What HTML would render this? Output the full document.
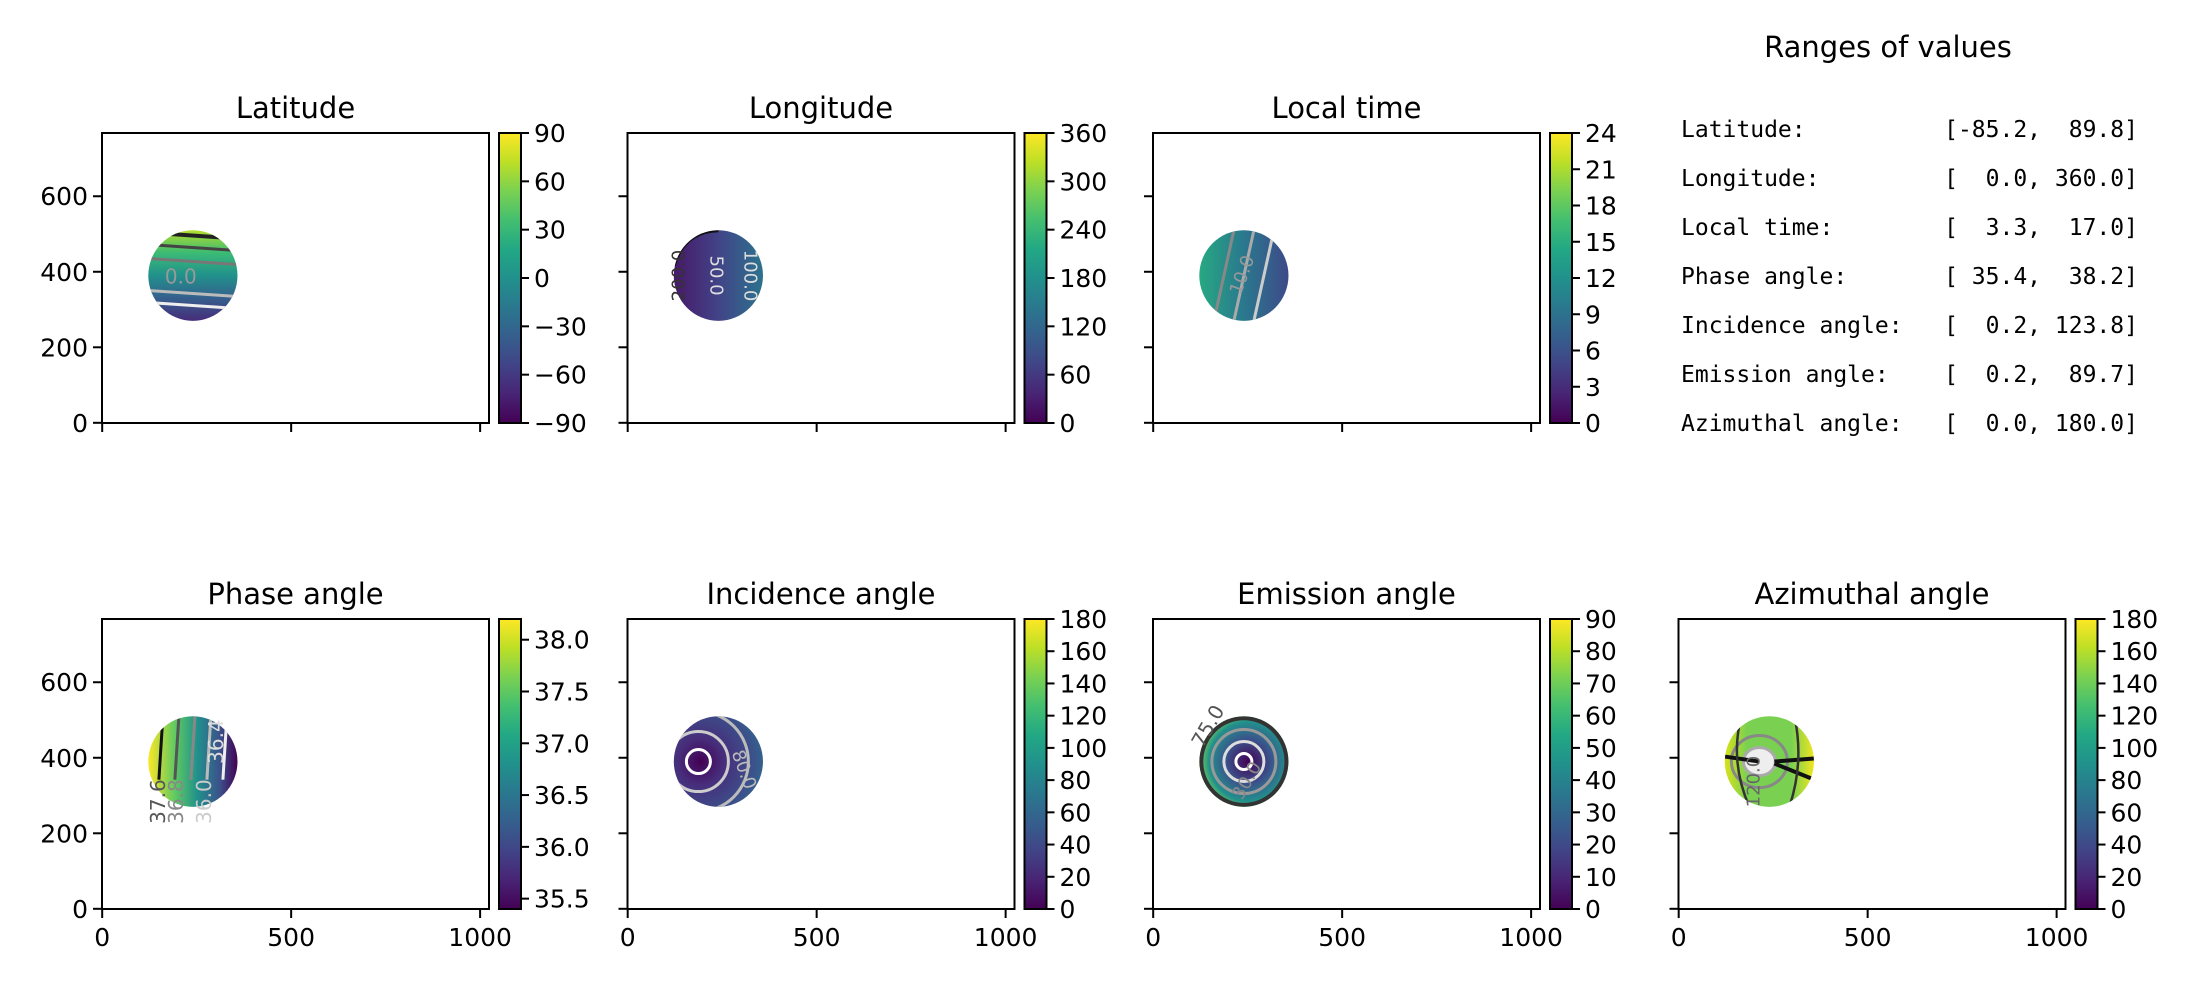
<!DOCTYPE html>
<html><head><meta charset="utf-8">
<style>
html,body{margin:0;padding:0;background:#fff;}
svg{display:block;font-family:"DejaVu Sans","Liberation Sans",sans-serif;}
</style></head>
<body>
<svg id="fig" width="2200" height="1000" viewBox="0 0 2200 1000" xmlns="http://www.w3.org/2000/svg">
<defs>
<linearGradient id="viridis" x1="0" y1="1" x2="0" y2="0">
<stop offset="0" stop-color="#440154"/><stop offset="0.1" stop-color="#482475"/><stop offset="0.2" stop-color="#414487"/><stop offset="0.3" stop-color="#355f8d"/><stop offset="0.4" stop-color="#2a788e"/><stop offset="0.5" stop-color="#21918c"/><stop offset="0.6" stop-color="#22a884"/><stop offset="0.7" stop-color="#44bf70"/><stop offset="0.8" stop-color="#7ad151"/><stop offset="0.9" stop-color="#bddf26"/><stop offset="1" stop-color="#fde725"/>
</linearGradient>
<linearGradient id="g-lat" x1="0" y1="0" x2="0" y2="1"><stop offset="0" stop-color="#b5de2b"/><stop offset="0.25" stop-color="#3bbb75"/><stop offset="0.5" stop-color="#21918c"/><stop offset="0.75" stop-color="#355f8d"/><stop offset="1" stop-color="#472c7a"/></linearGradient>
<linearGradient id="g-lon" x1="0" y1="0" x2="1" y2="0"><stop offset="0" stop-color="#48186a"/><stop offset="0.5" stop-color="#414487"/><stop offset="1" stop-color="#2c728e"/></linearGradient>
<linearGradient id="g-lt" x1="0" y1="0" x2="1" y2="0"><stop offset="0" stop-color="#27a882"/><stop offset="0.5" stop-color="#2a788e"/><stop offset="1" stop-color="#3e4a89"/></linearGradient>
<linearGradient id="g-ph" x1="0" y1="0" x2="1" y2="0"><stop offset="0" stop-color="#fde725"/><stop offset="0.3" stop-color="#5ec962"/><stop offset="0.55" stop-color="#21918c"/><stop offset="0.8" stop-color="#3b528b"/><stop offset="1" stop-color="#440154"/></linearGradient>
<radialGradient id="g-inc" cx="0.3" cy="0.5" r="0.85"><stop offset="0" stop-color="#440154"/><stop offset="0.3" stop-color="#472d7b"/><stop offset="0.7" stop-color="#3b528b"/><stop offset="1" stop-color="#2a788e"/></radialGradient>
<radialGradient id="g-em" cx="0.55" cy="0.5" r="0.55"><stop offset="0" stop-color="#440154"/><stop offset="0.45" stop-color="#3b528b"/><stop offset="0.8" stop-color="#21918c"/><stop offset="1" stop-color="#7ad151"/></radialGradient>
<linearGradient id="g-az" x1="0" y1="0" x2="1" y2="0"><stop offset="0" stop-color="#d8e219"/><stop offset="0.25" stop-color="#7ad151"/><stop offset="0.75" stop-color="#7ad151"/><stop offset="1" stop-color="#f1e51d"/></linearGradient>
</defs>
<text x="1888" y="57" font-size="29" text-anchor="middle">Ranges of values</text>
</svg>
<script>
const panelTitles = ["Latitude","Longitude","Local time","Phase angle","Incidence angle","Emission angle","Azimuthal angle"];
const panelSlots = [[0,0],[0,1],[0,2],[1,0],[1,1],[1,2],[1,3]];
const cbMin = [-90,0,0,35.4,0,0,0];
const cbMax = [90,360,24,38.2,180,90,180];
const cbTicks = [
 [-90,-60,-30,0,30,60,90],
 [0,60,120,180,240,300,360],
 [0,3,6,9,12,15,18,21,24],
 [35.5,36.0,36.5,37.0,37.5,38.0],
 [0,20,40,60,80,100,120,140,160,180],
 [0,10,20,30,40,50,60,70,80,90],
 [0,20,40,60,80,100,120,140,160,180]];
const cbTickLabels = [
 ["\u221290","\u221260","\u221230","0","30","60","90"],
 ["0","60","120","180","240","300","360"],
 ["0","3","6","9","12","15","18","21","24"],
 ["35.5","36.0","36.5","37.0","37.5","38.0"],
 ["0","20","40","60","80","100","120","140","160","180"],
 ["0","10","20","30","40","50","60","70","80","90"],
 ["0","20","40","60","80","100","120","140","160","180"]];
const xTicks = [0,500,1000];
const yTicks = [0,200,400,600];
const discCenter = [240,390];
const discRadius = [118,120];
const gradIds = ["g-lat","g-lon","g-lt","g-ph","g-inc","g-em","g-az"];
const rangeNames = ["Latitude:","Longitude:","Local time:","Phase angle:","Incidence angle:","Emission angle:","Azimuthal angle:"];
const rangeLo = [-85.2,0.0,3.3,35.4,0.2,0.2,0.0];
const rangeHi = [89.8,360.0,17.0,38.2,123.8,89.7,180.0];

const svg = document.getElementById('fig');
const NS = "http://www.w3.org/2000/svg";
function mk(tag, attrs, parent){const e=document.createElementNS(NS,tag);for(const k in attrs)e.setAttribute(k,attrs[k]);(parent||svg).appendChild(e);return e;}
const colL=[102,627.5,1153,1678.5], rowT=[133,619], AW=387, AH=290;

panelTitles.forEach((title,i)=>{
  const [r,c]=panelSlots[i];
  const L=colL[c], T=rowT[r], B=T+AH;
  const g=mk('g',{});
  
  
  const sx=d=>L+(d+0.5)/1024*AW, sy=d=>B-(d+0.5)/768*AH;
  const cx=sx(discCenter[0]), cy=sy(discCenter[1]);
  const rx=discRadius[0]/1024*AW, ry=discRadius[1]/768*AH;
  const clipId='clip'+i;
  const cp=mk('clipPath',{id:clipId},g); mk('ellipse',{cx,cy,rx,ry},cp);
  const disc=mk('ellipse',{cx,cy,rx,ry,fill:'url(#'+gradIds[i]+')'},g);
  
  
  const cg=mk('g',{'clip-path':'url(#'+clipId+')',fill:'none'},g);
  
  
  if(i===0){
    [[-40,'#222',4],[-28,'#444',3],[-14,'#777',3],[18,'#bbb',3],[30,'#eee',3]].forEach(([dy,col,w])=>mk('path',{d:`M${cx-rx} ${cy+dy-3} L${cx+rx} ${cy+dy+3}`,stroke:col,'stroke-width':w},cg));
    mk('text',{x:cx-28,y:cy+8,'font-size':20,fill:'#999'},g).textContent='0.0';
  } else if(i===1){
    mk('path',{d:`M${cx-rx} ${cy-10} Q${cx-rx+10} ${cy-rx} ${cx} ${cy-ry}`,stroke:'#111','stroke-width':4},cg);
    const t=mk('text',{x:cx-8,y:cy,'font-size':18,fill:'#ddd',transform:`rotate(90 ${cx-8} ${cy})`,'text-anchor':'middle'},g);t.textContent='50.0';
    const t2=mk('text',{x:cx+26,y:cy,'font-size':18,fill:'#ddd',transform:`rotate(90 ${cx+26} ${cy})`,'text-anchor':'middle'},g);t2.textContent='100.0';
    const t3=mk('text',{x:cx-34,y:cy,'font-size':18,fill:'#333',transform:`rotate(-90 ${cx-34} ${cy})`,'text-anchor':'middle'},g);t3.textContent='200.0';
  } else if(i===2){
    [[-20,'#888'],[0,'#aaa'],[20,'#ccc']].forEach(([dx,col])=>mk('path',{d:`M${cx+dx-10} ${cy+ry} L${cx+dx+10} ${cy-ry}`,stroke:col,'stroke-width':3},cg));
    const t=mk('text',{x:cx,y:cy+4,'font-size':18,fill:'#999',transform:`rotate(-70 ${cx} ${cy})`,'text-anchor':'middle'},g);t.textContent='10.0';
  } else if(i===3){
    [[-30,'#111'],[-14,'#555'],[2,'#888'],[18,'#bbb'],[34,'#eee']].forEach(([dx,col])=>mk('path',{d:`M${cx+dx} ${cy-ry} L${cx+dx-4} ${cy+ry*0.4}`,stroke:col,'stroke-width':3},cg));
    [[-28,'#555','37.6'],[-10,'#888','36.8'],[18,'#ccc','36.0'],[30,'#ddd','36.4']].forEach(([dx,col,s],k)=>{const x=cx+dx,y=cy+(k===3?-20:40);const t=mk('text',{x,y,'font-size':20,fill:col,transform:`rotate(-90 ${x} ${y})`,'text-anchor':'middle'},g);t.textContent=s;});
  } else if(i===4){
    mk('ellipse',{cx:cx-20,cy:cy,rx:12,ry:12,stroke:'#fff','stroke-width':3},cg);
    mk('ellipse',{cx:cx-20,cy:cy,rx:30,ry:30,stroke:'#ccc','stroke-width':3},cg);
    mk('ellipse',{cx:cx-20,cy:cy,rx:50,ry:50,stroke:'#bbb','stroke-width':3},cg);
    const t=mk('text',{x:cx+20,y:cy+10,'font-size':18,fill:'#bbb',transform:`rotate(70 ${cx+20} ${cy+10})`,'text-anchor':'middle'},g);t.textContent='80.0';
  } else if(i===5){
    mk('ellipse',{cx,cy,rx:8,ry:8,stroke:'#fff','stroke-width':3},cg);
    mk('ellipse',{cx,cy,rx:20,ry:20,stroke:'#ddd','stroke-width':3},cg);
    mk('ellipse',{cx,cy,rx:32,ry:32,stroke:'#999','stroke-width':3},cg);
    mk('ellipse',{cx,cy,rx:rx-2,ry:ry-2,stroke:'#333','stroke-width':4},cg);
    const t=mk('text',{x:cx-30,y:cy-32,'font-size':20,fill:'#555',transform:`rotate(-60 ${cx-30} ${cy-32})`,'text-anchor':'middle'},g);t.textContent='75.0';
    const t2=mk('text',{x:cx+8,y:cy+22,'font-size':18,fill:'#888',transform:`rotate(-60 ${cx+8} ${cy+22})`,'text-anchor':'middle'},g);t2.textContent='30.0';
  } else {
    mk('ellipse',{cx:cx-10,cy,rx:16,ry:14,fill:'#eee',stroke:'#aaa','stroke-width':3},cg);
    mk('ellipse',{cx:cx-10,cy,rx:28,ry:26,stroke:'#888','stroke-width':3},cg);
    mk('path',{d:`M${cx-rx} ${cy-5} L${cx-10} ${cy} M${cx+5} ${cy} L${cx+rx} ${cy-3} M${cx+5} ${cy+2} L${cx+rx} ${cy+18}`,stroke:'#111','stroke-width':4},cg);
    mk('path',{d:`M${cx-28} ${cy-ry} Q${cx-40} ${cy} ${cx-20} ${cy+ry} M${cx+25} ${cy-ry} Q${cx+35} ${cy} ${cx+20} ${cy+ry}`,stroke:'#333','stroke-width':2.5},cg);
    const t=mk('text',{x:cx-10,y:cy+20,'font-size':18,fill:'#666',transform:`rotate(-90 ${cx-10} ${cy+20})`,'text-anchor':'middle'},g);t.textContent='120.0';
  }
  const fr=mk('rect',{x:L,y:T,width:AW,height:AH,fill:'none',stroke:'#000','stroke-width':2},g);
  
  
  const tt=mk('text',{x:L+AW/2,y:T-15,'font-size':29,'text-anchor':'middle'},g);
  
  
  tt.textContent=title;
  xTicks.forEach(v=>{const x=sx(v);mk('line',{x1:x,y1:B,x2:x,y2:B+9,stroke:'#000','stroke-width':2},g);
    if(r===1){const t=mk('text',{x,y:B+37,'font-size':25,'text-anchor':'middle'},g);
      
      
      t.textContent=String(v);}});
  yTicks.forEach(v=>{const y=sy(v);mk('line',{x1:L-9,y1:y,x2:L,y2:y,stroke:'#000','stroke-width':2},g);
    if(c===0){const t=mk('text',{x:L-14,y:y+9,'font-size':25,'text-anchor':'end'},g);
      
      
      t.textContent=String(v);}});
  const CX=L+AW+10, CW=22;
  const cb=mk('rect',{x:CX,y:T,width:CW,height:AH,fill:'url(#viridis)',stroke:'#000','stroke-width':2},g);
  
  
  const cy2=v=>B-(v-cbMin[i])/(cbMax[i]-cbMin[i])*AH;
  cbTicks[i].forEach((v,k)=>{const y=cy2(v);mk('line',{x1:CX+CW,y1:y,x2:CX+CW+8,y2:y,stroke:'#000','stroke-width':2},g);
    const t=mk('text',{x:CX+CW+13,y:y+9,'font-size':25},g);
    
    
    t.textContent=cbTickLabels[i][k];});
});

function pad(s,n){while(s.length<n)s=' '+s;return s;}
rangeNames.forEach((nm,k)=>{
  let name=nm; while(name.length<19) name+=' ';
  const line=name+'['+pad(rangeLo[k].toFixed(1),5)+', '+pad(rangeHi[k].toFixed(1),5)+']';
  const t=mk('text',{x:1681,y:137+49*k,'font-size':23,'font-family':'"DejaVu Sans Mono","Liberation Mono",monospace','xml:space':'preserve'});
  
  
  t.style.whiteSpace='pre';
  t.textContent=line;
});
</script>
</body></html>
